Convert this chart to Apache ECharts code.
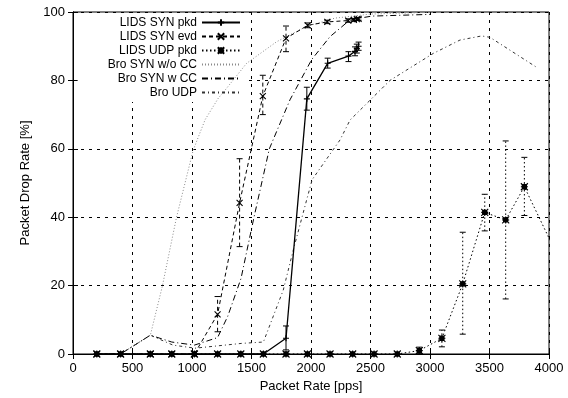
<!DOCTYPE html>
<html><head><meta charset="utf-8">
<script src="https://cdn.jsdelivr.net/npm/echarts@6/dist/echarts.min.js"></script>
<style>html,body{margin:0;padding:0;background:#fff}#c{width:568px;height:398px}</style>
</head><body><div id="c"></div>
<script>
// ---- axis ticks ----
const xTicks = [0, 500, 1000, 1500, 2000, 2500, 3000, 3500, 4000];
const yTicks = [0, 20, 40, 60, 80, 100];

// ---- LIDS SYN pkd ----
const synPkdX  = [200, 400, 650, 830, 1020, 1215, 1410, 1600, 1790, 1965, 2140, 2315, 2370, 2385, 2400];
const synPkdY  = [0, 0, 0, 0, 0, 0, 0, 0, 4.6, 74.6, 85, 87.1, 88.5, 89.3, 90];
const synPkdLo = [0, 0, 0, 0, 0, 0, 0, 0, 1.2, 71.3, 83.6, 85.5, 87.2, 88.0, 88.8];
const synPkdHi = [0, 0, 0, 0, 0, 0, 0, 0, 8.2, 78.0, 86.5, 88.4, 89.8, 90.6, 91.2];

// ---- LIDS SYN evd ----
const synEvdX  = [200, 400, 650, 830, 1020, 1215, 1400, 1595, 1790, 1972, 2137, 2313, 2360, 2385, 2400];
const synEvdY  = [0, 0, 0, 0, 0, 11.6, 44.2, 75.4, 92.3, 96.1, 97.1, 97.5, 97.7, 97.9, 98.0];
const synEvdLo = [0, 0, 0, 0, 0, 6.5, 31.4, 70.0, 88.4, 95.4, 96.6, 97.0, 97.3, 97.5, 97.6];
const synEvdHi = [0, 0, 0, 0, 0, 16.8, 57.1, 81.5, 95.9, 96.8, 97.6, 98.0, 98.1, 98.3, 98.4];

// ---- LIDS UDP pkd ----
const udpPkdX  = [200, 400, 650, 830, 1020, 1215, 1410, 1600, 1790, 1970, 2160, 2350, 2530, 2725, 2910, 3100, 3275, 3460, 3636, 3793, 4150];
const udpPkdY  = [0, 0, 0, 0, 0, 0, 0, 0, 0, 0, 0, 0, 0, 0, 1.0, 4.6, 20.5, 41.4, 39.2, 48.9, 23];
const udpPkdLo = [0, 0, 0, 0, 0, 0, 0, 0, 0, 0, 0, 0, 0, 0, 0.2, 2.1, 5.8, 36.0, 16.1, 40.5, 23];
const udpPkdHi = [0, 0, 0, 0, 0, 0, 0, 0, 0, 0, 0, 0, 0, 0, 2.0, 7.0, 35.6, 46.7, 62.3, 57.5, 23];

// ---- Bro SYN w/o CC ----
const broNoCcX = [200, 400, 650, 750, 870, 1010, 1110, 1221, 1263, 1459, 1711, 1963, 2200, 2500, 3000];
const broNoCcY = [0, 0, 5.5, 19.7, 40, 59.6, 68.5, 74.8, 76.5, 85, 91.3, 95.8, 98.2, 99.4, 99.9];

// ---- Bro SYN w CC ----
const broCcX = [200, 400, 650, 830, 1020, 1215, 1300, 1412, 1521, 1650, 1823, 2006, 2160, 2328, 2510, 3000];
const broCcY = [0, 0, 5.5, 3.5, 2.6, 4.8, 11, 22.1, 40, 60, 74.3, 86.1, 92.8, 97.7, 98.8, 99.3];

// ---- Bro UDP ----
const broUdpX = [200, 400, 650, 840, 1025, 1417, 1600, 1767, 1851, 1963, 2010, 2244, 2328, 2664, 3028, 3252, 3434, 3504, 3897];
const broUdpY = [0, 0, 5.5, 2.6, 1.7, 3.1, 3.5, 18.7, 30.4, 45, 51, 62.6, 68.4, 80, 87.9, 91.8, 93, 92.6, 83.8];

const names = ['LIDS SYN pkd', 'LIDS SYN evd', 'LIDS UDP pkd', 'Bro SYN w/o CC', 'Bro SYN w CC', 'Bro UDP'];

const zip = (a, b) => a.map((v, i) => [v, b[i]]);
const zip3 = (a, b, c) => a.map((v, i) => [v, b[i], c[i]]);

const SYM_PLUS = 'path://M5,0L5,10M0,5L10,5';
const SYM_X = 'path://M0,0L10,10M10,0L0,10';
const SYM_STAR = 'path://M0,0L10,10M10,0L0,10M5,0L5,10M0,5L10,5M2,2L8,2L8,8L2,8Z';

function lineSeries(name, data, color, dash, width, symbol, symSize) {
  return {
    type: 'line', name, data,
    symbol: symbol || 'none', symbolSize: symSize || 6, showSymbol: !!symbol,
    clip: true, z: 3,
    lineStyle: { color, width, type: dash },
    itemStyle: { color, borderColor: color, borderWidth: 1.1 },
    emphasis: { disabled: true }, animation: false
  };
}

function errSeries(name, data, dash) {
  return {
    type: 'custom', name, data, clip: true, z: 4, silent: true, animation: false,
    encode: { x: 0, y: [1, 2] },
    renderItem(params, api) {
      const x = api.value(0), lo = api.value(1), hi = api.value(2);
      if (hi - lo < 0.5) return null;
      const p1 = api.coord([x, lo]), p2 = api.coord([x, hi]);
      const w = 3;
      return { type: 'group', children: [
        { type: 'line', shape: { x1: p1[0], y1: p1[1], x2: p2[0], y2: p2[1] }, style: { stroke: '#000', lineWidth: 1, lineDash: dash } },
        { type: 'line', shape: { x1: p1[0] - w, y1: p1[1], x2: p1[0] + w, y2: p1[1] }, style: { stroke: '#000', lineWidth: 1 } },
        { type: 'line', shape: { x1: p2[0] - w, y1: p2[1], x2: p2[0] + w, y2: p2[1] }, style: { stroke: '#000', lineWidth: 1 } }
      ]};
    }
  };
}

const font = 'Liberation Sans, Arial, sans-serif';
const axisCommon = {
  axisLine: { show: true, lineStyle: { color: '#000', width: 1 } },
  axisTick: { show: true, inside: true, length: 5, lineStyle: { color: '#000' } },
  axisLabel: { color: '#000', fontSize: 13, fontFamily: font, margin: 8, formatter: v => String(v) },
  nameTextStyle: { color: '#000', fontSize: 13, fontFamily: font },
  splitLine: { show: true, lineStyle: { color: '#000', width: 1, type: [3, 5] } }
};

const hideSym = { opacity: 0 };
const legendData = names.map((n, i) => i >= 3 ? { name: n, itemStyle: hideSym } : { name: n });

const chart = echarts.init(document.getElementById('c'), null, { renderer: 'canvas' });
chart.setOption({
  animation: false,
  backgroundColor: '#fff',
  grid: { left: 73, right: 19, top: 12, bottom: 44, show: true, borderColor: '#000', borderWidth: 1, containLabel: false, z: 0 },
  xAxis: [
    Object.assign({}, axisCommon, {
      type: 'value', min: xTicks[0], max: xTicks[xTicks.length - 1], interval: xTicks[1] - xTicks[0],
      name: 'Packet Rate [pps]', nameLocation: 'middle', nameGap: 22, z: 0
    }),
    { type: 'value', position: 'top', min: xTicks[0], max: xTicks[xTicks.length - 1], interval: xTicks[1] - xTicks[0], z: 5,
      axisLine: { show: true, lineStyle: { color: '#000' } }, axisTick: { show: true, inside: true, length: 5, lineStyle: { color: '#000' } },
      axisLabel: { show: false }, splitLine: { show: false } }
  ],
  yAxis: [
    Object.assign({}, axisCommon, {
      type: 'value', min: yTicks[0], max: yTicks[yTicks.length - 1], interval: yTicks[1] - yTicks[0],
      name: 'Packet Drop Rate [%]', nameLocation: 'middle', nameGap: 36, z: 0
    }),
    { type: 'value', position: 'right', min: yTicks[0], max: yTicks[yTicks.length - 1], interval: yTicks[1] - yTicks[0],
      axisLine: { show: true, lineStyle: { color: '#000' } }, axisTick: { show: true, inside: true, length: 5, lineStyle: { color: '#000' } },
      axisLabel: { show: false }, splitLine: { show: false } }
  ],
  legend: {
    data: legendData, orient: 'vertical', align: 'right', right: 323, top: 13, z: 1,
    itemWidth: 38, itemHeight: 8, itemGap: 1,
    textStyle: { color: '#000', fontSize: 12, fontFamily: font, lineHeight: 13 },
    selectedMode: false, backgroundColor: '#fff', padding: [3, 4, 3, 30]
  },
  series: [
    lineSeries(names[3], zip(broNoCcX, broNoCcY), '#8a8a8a', [1, 2], 1, null),
    lineSeries(names[4], zip(broCcX, broCcY), '#000', [6, 3, 1, 3], 1, null),
    lineSeries(names[5], zip(broUdpX, broUdpY), '#333', [3, 3, 1, 3], 1, null),
    lineSeries(names[2], zip(udpPkdX, udpPkdY), '#000', [1.5, 2.5], 1, SYM_STAR, 7),
    lineSeries(names[1], zip(synEvdX, synEvdY), '#000', [4, 3], 1, SYM_X, 6),
    lineSeries(names[0], zip(synPkdX, synPkdY), '#000', 'solid', 1.3, SYM_PLUS, 6),
    errSeries('e0', zip3(synPkdX, synPkdLo, synPkdHi), null),
    errSeries('e1', zip3(synEvdX, synEvdLo, synEvdHi), [4, 3]),
    errSeries('e2', zip3(udpPkdX, udpPkdLo, udpPkdHi), [1.5, 2.5])
  ]
});
</script></body></html>
